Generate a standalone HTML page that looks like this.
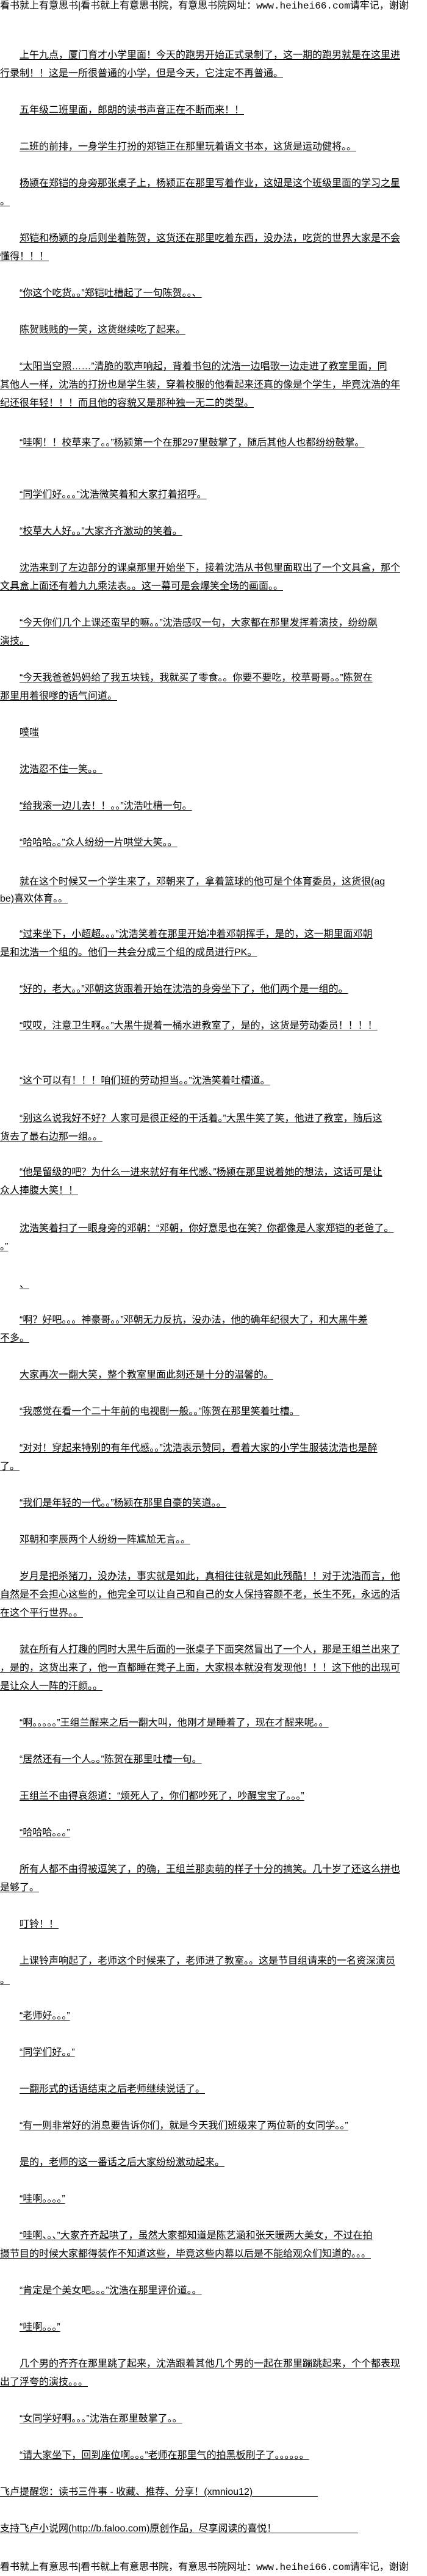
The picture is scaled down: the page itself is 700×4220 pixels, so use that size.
<!DOCTYPE html>
<html><head><meta charset="utf-8">
<style>
html,body{margin:0;padding:0;background:#fff;}
body{width:700px;height:4220px;position:relative;overflow:hidden;font-family:"Liberation Sans","Noto Sans CJK SC",sans-serif;color:#000;}
.l{position:absolute;left:0;height:30px;line-height:30px;white-space:nowrap;font-size:16px;text-decoration:underline;text-underline-offset:2px;}
.i{left:32px;}
.h{position:absolute;left:0;white-space:nowrap;font-size:16px;line-height:20px;}
.h span{font-family:"Liberation Mono",monospace;}
</style></head><body>
<div class="h" style="top:0px">看书就上有意思书|看书就上有意思书院，有意思书院网址：<span>www.heihei66.com</span>请牢记，谢谢</div>

<div class="l i" style="top:76px">上午九点，厦门育才小学里面！今天的跑男开始正式录制了，这一期的跑男就是在这里进</div>
<div class="l" style="top:106px">行录制！！这是一所很普通的小学，但是今天，它注定不再普通。</div>
<div class="l i" style="top:166px">五年级二班里面，郎朗的读书声音正在不断而来！！</div>
<div class="l i" style="top:226px">二班的前排，一身学生打扮的郑铠正在那里玩着语文书本，这货是运动健将。。</div>
<div class="l i" style="top:286px">杨颍在郑铠的身旁那张桌子上，杨颍正在那里写着作业，这妞是这个班级里面的学习之星</div>
<div class="l" style="top:316px">。</div>

<div class="l i" style="top:376px">郑铠和杨颍的身后则坐着陈贺，这货还在那里吃着东西，没办法，吃货的世界大家是不会</div>
<div class="l" style="top:406px">懂得！！！</div>
<div class="l i" style="top:466px">“你这个吃货。。”郑铠吐槽起了一句陈贺。。、</div>
<div class="l i" style="top:526px">陈贺贱贱的一笑，这货继续吃了起来。</div>
<div class="l i" style="top:586px">“太阳当空照……”清脆的歌声响起，背着书包的沈浩一边唱歌一边走进了教室里面，同</div>
<div class="l" style="top:616px">其他人一样，沈浩的打扮也是学生装，穿着校服的他看起来还真的像是个学生，毕竟沈浩的年</div>
<div class="l" style="top:646px">纪还很年轻！！！而且他的容貌又是那种独一无二的类型。</div>

<div class="l i" style="top:711px">“哇啊！！校草来了。。”杨颍第一个在那297里鼓掌了，随后其他人也都纷纷鼓掌。</div>
<div class="l i" style="top:796px">“同学们好。。。”沈浩微笑着和大家打着招呼。</div>
<div class="l i" style="top:856px">“校草大人好。。”大家齐齐激动的笑着。</div>
<div class="l i" style="top:916px">沈浩来到了左边部分的课桌那里开始坐下，接着沈浩从书包里面取出了一个文具盒，那个</div>
<div class="l" style="top:946px">文具盒上面还有着九九乘法表。。这一幕可是会爆笑全场的画面。。</div>
<div class="l i" style="top:1006px">“今天你们几个上课还蛮早的嘛。。”沈浩感叹一句，大家都在那里发挥着演技，纷纷飙</div>
<div class="l" style="top:1036px">演技。</div>

<div class="l i" style="top:1096px">“今天我爸爸妈妈给了我五块钱，我就买了零食。。你要不要吃，校草哥哥。。”陈贺在</div>
<div class="l" style="top:1126px">那里用着很嗲的语气问道。</div>
<div class="l i" style="top:1186px">噗嗤</div>
<div class="l i" style="top:1246px">沈浩忍不住一笑。。</div>
<div class="l i" style="top:1306px">“给我滚一边儿去！！。。”沈浩吐槽一句。</div>
<div class="l i" style="top:1366px">“哈哈哈。。”众人纷纷一片哄堂大笑。。</div>

<div class="l i" style="top:1430px">就在这个时候又一个学生来了，邓朝来了，拿着篮球的他可是个体育委员，这货很(ag</div>
<div class="l" style="top:1458px">be)喜欢体育。。</div>
<div class="l i" style="top:1516px">“过来坐下，小超超。。。”沈浩笑着在那里开始冲着邓朝挥手，是的，这一期里面邓朝</div>
<div class="l" style="top:1546px">是和沈浩一个组的。他们一共会分成三个组的成员进行PK。</div>
<div class="l i" style="top:1606px">“好的，老大。。”邓朝这货跟着开始在沈浩的身旁坐下了，他们两个是一组的。</div>
<div class="l i" style="top:1666px">“哎哎，注意卫生啊。。”大黑牛提着一桶水进教室了，是的，这货是劳动委员！！！！</div>
<div class="l i" style="top:1756px">“这个可以有！！！咱们班的劳动担当。。”沈浩笑着吐槽道。</div>

<div class="l i" style="top:1818px">“别这么说我好不好？人家可是很正经的干活着。”大黑牛笑了笑，他进了教室，随后这</div>
<div class="l" style="top:1848px">货去了最右边那一组。。</div>
<div class="l i" style="top:1906px">“他是留级的吧？为什么一进来就好有年代感、”杨颍在那里说着她的想法，这话可是让</div>
<div class="l" style="top:1936px">众人捧腹大笑！！</div>
<div class="l i" style="top:1998px">沈浩笑着扫了一眼身旁的邓朝：“邓朝，你好意思也在笑？你都像是人家郑铠的老爸了。</div>
<div class="l" style="top:2028px">。”</div>
<div class="l i" style="top:2090px">、</div>

<div class="l i" style="top:2148px">“啊？好吧。。。神豪哥。。”邓朝无力反抗，没办法，他的确年纪很大了，和大黑牛差</div>
<div class="l" style="top:2178px">不多。</div>
<div class="l i" style="top:2238px">大家再次一翻大笑，整个教室里面此刻还是十分的温馨的。</div>
<div class="l i" style="top:2298px">“我感觉在看一个二十年前的电视剧一般。。”陈贺在那里笑着吐槽。</div>
<div class="l i" style="top:2358px">“对对！穿起来特别的有年代感。。”沈浩表示赞同，看着大家的小学生服装沈浩也是醉</div>
<div class="l" style="top:2388px">了。</div>
<div class="l i" style="top:2448px">“我们是年轻的一代。。”杨颍在那里自豪的笑道。。</div>

<div class="l i" style="top:2508px">邓朝和李辰两个人纷纷一阵尴尬无言。。</div>
<div class="l i" style="top:2568px">岁月是把杀猪刀，没办法，事实就是如此，真相往往就是如此残酷！！对于沈浩而言，他</div>
<div class="l" style="top:2598px">自然是不会担心这些的，他完全可以让自己和自己的女人保持容颜不老，长生不死，永远的活</div>
<div class="l" style="top:2628px">在这个平行世界。。</div>
<div class="l i" style="top:2688px">就在所有人打趣的同时大黑牛后面的一张桌子下面突然冒出了一个人，那是王组兰出来了</div>
<div class="l" style="top:2718px">，是的，这货出来了，他一直都睡在凳子上面，大家根本就没有发现他！！！这下他的出现可</div>
<div class="l" style="top:2748px">是让众人一阵的汗颜。。</div>
<div class="l i" style="top:2808px">“啊。。。。。”王组兰醒来之后一翻大叫，他刚才是睡着了，现在才醒来呢。。</div>

<div class="l i" style="top:2868px">“居然还有一个人。。”陈贺在那里吐槽一句。</div>
<div class="l i" style="top:2928px">王组兰不由得哀怨道：“烦死人了，你们都吵死了，吵醒宝宝了。。。”</div>
<div class="l i" style="top:2988px">“哈哈哈。。。”</div>
<div class="l i" style="top:3048px">所有人都不由得被逗笑了，的确，王组兰那卖萌的样子十分的搞笑。几十岁了还这么拼也</div>
<div class="l" style="top:3078px">是够了。</div>
<div class="l i" style="top:3138px">叮铃！！</div>

<div class="l i" style="top:3198px">上课铃声响起了，老师这个时候来了，老师进了教室。。这是节目组请来的一名资深演员</div>
<div class="l" style="top:3230px">。</div>
<div class="l i" style="top:3288px">“老师好。。。”</div>
<div class="l i" style="top:3348px">“同学们好。。”</div>
<div class="l i" style="top:3408px">一翻形式的话语结束之后老师继续说话了。</div>
<div class="l i" style="top:3468px">“有一则非常好的消息要告诉你们，就是今天我们班级来了两位新的女同学。。”</div>

<div class="l i" style="top:3528px">是的，老师的这一番话之后大家纷纷激动起来。</div>
<div class="l i" style="top:3588px">“哇啊。。。。”</div>
<div class="l i" style="top:3648px">“哇啊、。、”大家齐齐起哄了，虽然大家都知道是陈艺涵和张天暖两大美女，不过在拍</div>
<div class="l" style="top:3678px">摄节目的时候大家都得装作不知道这些，毕竟这些内幕以后是不能给观众们知道的。。。</div>
<div class="l i" style="top:3738px">“肯定是个美女吧。。。”沈浩在那里评价道。。</div>
<div class="l i" style="top:3798px">“哇啊。。。”</div>
<div class="l i" style="top:3858px">几个男的齐齐在那里跳了起来，沈浩跟着其他几个男的一起在那里蹦跳起来，个个都表现</div>
<div class="l" style="top:3888px">出了浮夸的演技。。。</div>
<div class="l i" style="top:3948px">“女同学好啊。。。”沈浩在那里鼓掌了。。</div>
<div class="l i" style="top:4008px">“请大家坐下，回到座位啊。。。”老师在那里气的拍黑板刷子了。。。。。。</div>
<div class="l" style="top:4068px">飞卢提醒您：读书三件事 - 收藏、推荐、分享！(xmniou12)&nbsp;&nbsp;&nbsp;&nbsp;&nbsp;&nbsp;&nbsp;&nbsp;&nbsp;&nbsp;&nbsp;&nbsp;&nbsp;&nbsp;&nbsp;&nbsp;&nbsp;&nbsp;&nbsp;&nbsp;&nbsp;&nbsp;&nbsp;&nbsp;</div>
<div class="l" style="top:4128px">支持飞卢小说网(http://b.faloo.com)原创作品，尽享阅读的喜悦！&nbsp;&nbsp;&nbsp;&nbsp;&nbsp;&nbsp;&nbsp;&nbsp;&nbsp;&nbsp;&nbsp;&nbsp;&nbsp;&nbsp;&nbsp;&nbsp;&nbsp;&nbsp;&nbsp;&nbsp;&nbsp;&nbsp;&nbsp;&nbsp;&nbsp;&nbsp;&nbsp;&nbsp;&nbsp;&nbsp;</div>
<div class="h" style="top:4196px">看书就上有意思书|看书就上有意思书院，有意思书院网址：<span>www.heihei66.com</span>请牢记，谢谢</div>
</body></html>
